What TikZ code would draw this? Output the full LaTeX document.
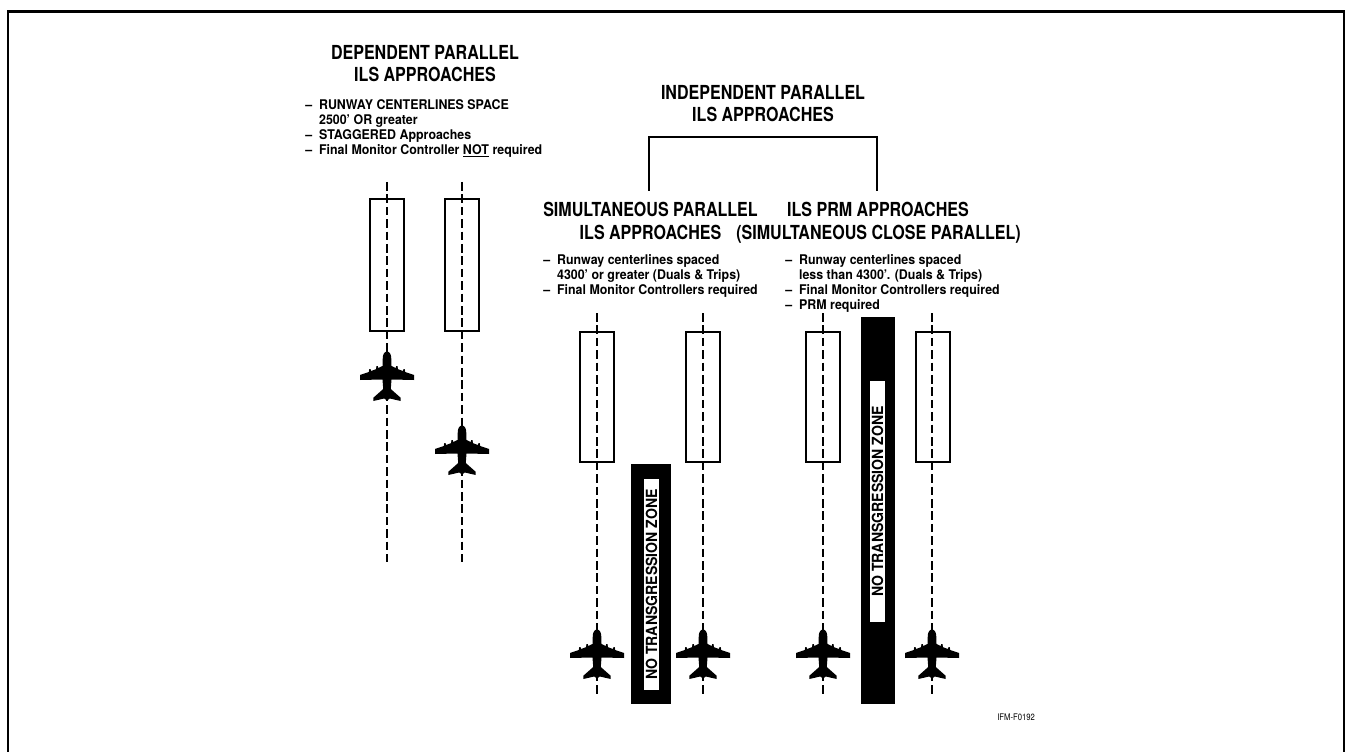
\documentclass[tikz,border=0pt]{standalone}
\usepackage{fontspec}
\setmainfont{TeX Gyre Heros}
\newfontfamily\hdfont[FakeStretch=0.83]{TeX Gyre Heros}
\newfontfamily\itemfont[FakeStretch=0.93]{TeX Gyre Heros}
\newfontfamily\zonefont[FakeStretch=0.917]{TeX Gyre Heros}
\newfontfamily\figfont[FakeStretch=0.85]{TeX Gyre Heros}
\newcommand{\bul}{\makebox[10.4pt][l]{–}}
\newcommand{\ind}{\hspace*{10.4pt}}
\tikzset{
  px/.style={x=0.75pt,y=-0.75pt},
  heading/.style={inner sep=0pt,anchor=base,font=\hdfont\fontsize{14.5}{16}\bfseries\selectfont},
  item/.style={inner sep=0pt,anchor=base west,font=\itemfont\fontsize{10}{12}\bfseries\selectfont},
  runway/.style={draw,line width=1.5pt,fill=none,minimum width=25.5pt,inner sep=0pt},
  centerline/.style={line width=1.8pt,dash pattern=on 6.4pt off 2.9pt},
  zone/.style={fill=black,inner sep=0pt},
  zonelabel/.style={fill=white,inner sep=0pt,rotate=90,font=\zonefont\fontsize{11.5}{13}\bfseries\selectfont},
  frameline/.style={line width=2pt},
  plane/.pic={
    \foreach \s in {1,-1}{
      \fill[xscale=\s] (-0.4,0) -- (0,0) .. controls (1.5,0.5) and (3.8,2) .. (4.2,6) -- (4.5,15) -- (8.7,17) -- (9.2,15) -- (10.5,15) -- (11,18.2)
        -- (16,20) -- (16.5,18) -- (17.8,18.3) -- (18.2,21) -- (27,24) -- (27,29) -- (4.5,28.5) -- (3.8,38)
        -- (13.7,46.8) -- (13.7,50) -- (2.8,47.5) -- (0,49.5) -- (-0.4,49.5) -- cycle;
    }
  }
}
\begin{document}
\begin{tikzpicture}[px]
\useasboundingbox (0,0) rectangle (1345,752);
% frame
\coordinate (fa) at (8,752);
\coordinate (fb) at (8,11.5);
\coordinate (fc) at (1344,11.5);
\coordinate (fd) at (1344,752);
\draw[frameline] (fa) -- (fb) -- (fc) -- (fd);

% headings
\node[heading] (h1a) at (425,59.5) {DEPENDENT PARALLEL};
\node[heading] (h1b) at (425,82) {ILS APPROACHES};
\node[heading] (h2a) at (763,100) {INDEPENDENT PARALLEL};
\node[heading] (h2b) at (763,122) {ILS APPROACHES};
\node[heading] (h3a) at (650.5,217) {SIMULTANEOUS PARALLEL};
\node[heading] (h3b) at (650.5,240) {ILS APPROACHES};
\node[heading] (h4a) at (878,217) {ILS PRM APPROACHES};
\node[heading] (h4b) at (878.5,240) {(SIMULTANEOUS CLOSE PARALLEL)};

% lists
\node[item] (l1) at (305,109.5) {\bul RUNWAY CENTERLINES SPACE};
\node[item] (l2) at (305,124.5) {\ind 2500’ OR greater};
\node[item] (l3) at (305,139.5) {\bul STAGGERED Approaches};
\node[item] (l4) at (305,154.5) {\bul Final Monitor Controller \underline{NOT} required};
\node[item] (m1) at (543,264.5) {\bul Runway centerlines spaced};
\node[item] (m2) at (543,279.5) {\ind 4300’ or greater (Duals \& Trips)};
\node[item] (m3) at (543,294.5) {\bul Final Monitor Controllers required};
\node[item] (r1) at (785,264.5) {\bul Runway centerlines spaced};
\node[item] (r2) at (785,279.5) {\ind less than 4300’. (Duals \& Trips)};
\node[item] (r3) at (785,294.5) {\bul Final Monitor Controllers required};
\node[item] (r4) at (785,309.5) {\bul PRM required};

% bracket
\coordinate (b1) at (649,191);
\coordinate (b2) at (649,137);
\coordinate (b3) at (877,137);
\coordinate (b4) at (877,191);
\draw[line width=1.5pt] (b1) -- (b2) -- (b3) -- (b4);

% zones
\node[zone,minimum width=30pt,minimum height=180pt] (z1) at (651,584) {};
\node[zone,minimum width=25.5pt,minimum height=290.25pt] (z2) at (878,510.5) {};
\node[zonelabel,minimum width=158.25pt,minimum height=11.25pt] (z1t) at (651.5,584.5) {NO TRANSGRESSION ZONE};
\node[zonelabel,minimum width=180.75pt,minimum height=11.25pt] (z2t) at (877.5,501.5) {NO TRANSGRESSION ZONE};

% center lines
\foreach \n/\x/\a/\b in {c1/387/182/562,c2/462/182/562,c3/597/313/697,c4/703/313/697,c5/823/313/697,c6/932/313/697}{
  \coordinate (\n s) at (\x,\a);
  \coordinate (\n e) at (\x,\b);
  \draw[centerline] (\n s) -- (\n e);
}

% runways
\node[runway,minimum height=98.25pt] (w1) at (387,265) {};
\node[runway,minimum height=98.25pt] (w2) at (461.5,265) {};
\node[runway,minimum height=97.5pt] (w3) at (597,397) {};
\node[runway,minimum height=97.5pt] (w4) at (703,397) {};
\node[runway,minimum height=97.5pt] (w5) at (823,397) {};
\node[runway,minimum height=97.5pt] (w6) at (932.5,397) {};

% aircraft
\pic at (387,351) {plane};
\pic at (462,425) {plane};
\pic at (597,629) {plane};
\pic at (703,629) {plane};
\pic at (823,629) {plane};
\pic at (932,629) {plane};

\node[inner sep=0pt,anchor=base west,font=\figfont\fontsize{6.8}{8}\selectfont] (fig) at (997,720) {IFM-F0192};
\end{tikzpicture}
\end{document}
